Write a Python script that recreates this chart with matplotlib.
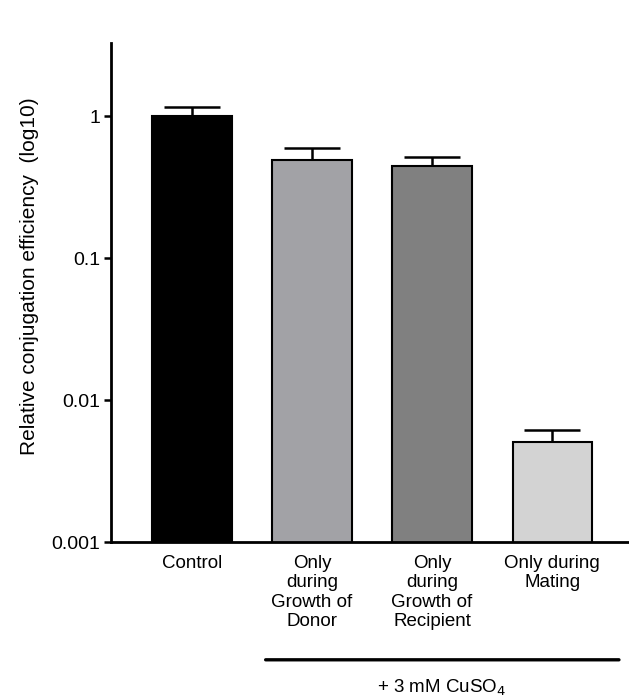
import matplotlib.pyplot as plt
import numpy as np

plt.rcParams['font.family'] = ['Liberation Sans', 'DejaVu Sans']

categories = ["Control", "Only\nduring\nGrowth of\nDonor", "Only\nduring\nGrowth of\nRecipient",
              "Only during\nMating"]
means = [1.0, 0.49, 0.45, 0.0051]
err_upper = [0.17, 0.105, 0.07, 0.0011]
colors = ["#000000", "#a2a2a6", "#808080", "#d3d3d3"]

fig = plt.figure(figsize=(6.29, 7), dpi=100)
ax = fig.add_axes([0.1765, 0.2257, 0.8215, 0.713])

x = np.arange(len(categories))
ax.bar(x, means, width=0.66, color=colors, edgecolor="black", linewidth=1.5, zorder=2)
ax.errorbar(x, means, yerr=[np.zeros(len(means)), err_upper], fmt="none",
            ecolor="black", elinewidth=1.8, capsize=20, capthick=1.8, zorder=1)

ax.set_yscale("log")
ax.set_ylim(0.001, 3.3)
ax.set_xlim(-0.675, 3.63)
ax.set_yticks([0.001, 0.01, 0.1, 1])
ax.set_yticklabels(["0.001", "0.01", "0.1", "1"], fontsize=14)
ax.minorticks_off()
ax.tick_params(axis="y", length=5, width=1.8, pad=3)
ax.set_xticks(x)
ax.set_xticklabels(categories, fontsize=13.5, va="top", linespacing=1.2)
ax.tick_params(axis="x", length=0, pad=9)

for s in ["top", "right"]:
    ax.spines[s].set_visible(False)
for s in ["left", "bottom"]:
    ax.spines[s].set_linewidth(2)

ax.set_ylabel("Relative conjugation efficiency  (log10)", fontsize=15, labelpad=8)
ax.yaxis.set_label_coords(-0.14, 0.533)

# bracket for the CuSO4 treatments
ax.annotate("", xy=(0.59, -0.236), xycoords=("data", "axes fraction"),
            xytext=(3.58, -0.236), textcoords=("data", "axes fraction"),
            arrowprops=dict(arrowstyle="-", lw=2.4, color="black"))
ax.text(2.08, -0.293, "+ 3 mM CuSO$_4$", transform=ax.get_xaxis_transform(),
        ha="center", va="center", fontsize=13.5)

fig.savefig("out.png", dpi=100)
